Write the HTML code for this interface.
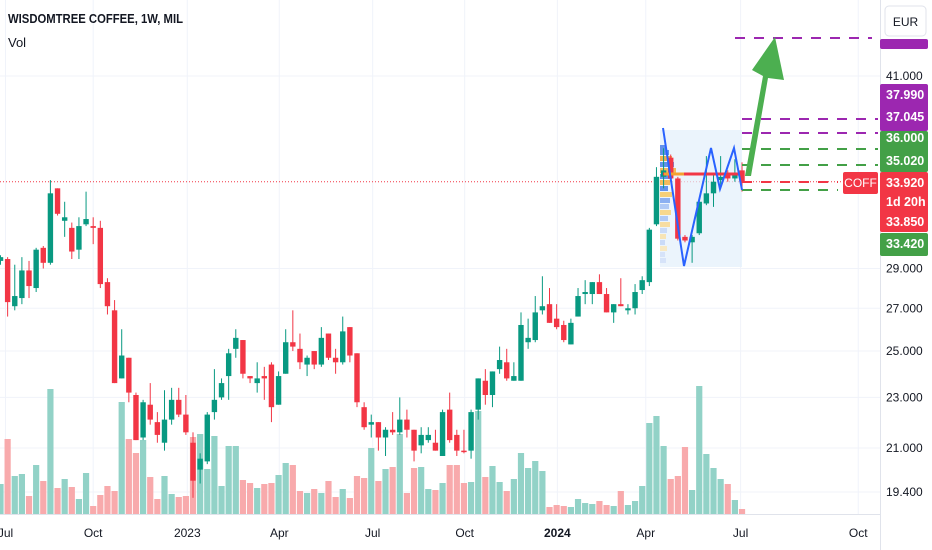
<!DOCTYPE html>
<html><head><meta charset="utf-8">
<style>
html,body{margin:0;padding:0;background:#fff;width:932px;height:550px;overflow:hidden}
svg{display:block;font-family:"Liberation Sans",sans-serif}
</style></head>
<body>
<svg id="chart" width="932" height="550" viewBox="0 0 932 550" xmlns="http://www.w3.org/2000/svg">
<g id="grid"></g>
<g id="vol"></g>
<rect x="660" y="130" width="82" height="137" fill="#e3effb" opacity="0.7"/>
<g id="profile"></g>
<g id="candles"></g>
<g id="overlay"></g>
<g id="axis"></g>
<g id="taxis"></g>
<text x="8" y="23" font-size="12.5" font-weight="bold" fill="#131722" textLength="175" lengthAdjust="spacingAndGlyphs">WISDOMTREE COFFEE, 1W, MIL</text>
<text x="8" y="47" font-size="13" fill="#131722">Vol</text>
<rect x="885" y="6" width="41" height="30" rx="4" fill="#fff" stroke="#e0e3eb"/>
<text x="905.5" y="26" font-size="12" text-anchor="middle" fill="#131722">EUR</text>
</svg>
<script>
const opens=[29.4,29.5,27.1,27.5,28.9,28.0,30.1,29.3,33.5,31.6,31.2,30.0,31.4,31.3,31.2,28.3,26.9,23.8,24.7,23.1,21.4,22.7,22.0,21.2,22.1,22.9,22.3,21.2,20.2,20.5,22.4,23.0,23.9,25.1,25.5,23.9,23.6,23.9,24.4,22.7,24.0,25.4,25.1,24.4,25.0,24.4,25.8,24.7,24.5,26.1,24.9,22.6,21.9,22.0,21.4,21.7,21.6,22.1,21.7,21.1,21.3,21.2,20.7,22.5,21.5,20.9,20.9,22.5,23.7,23.1,24.2,24.5,23.7,23.7,25.4,25.5,26.9,27.2,26.5,26.2,25.3,26.6,27.7,27.7,28.3,27.7,26.8,27.2,26.9,27.0,27.9,28.3,31.4,34.2,35.4,34.1,30.7,30.4,30.9,32.6,33.2,34.0,34.3,34.1,34.6];
const highs=[29.7,29.6,29.2,29.6,29.4,30.1,30.2,34.0,33.5,32.7,31.5,31.8,33.3,31.8,31.6,28.5,27.4,26.0,24.7,23.2,22.9,23.6,22.4,23.3,23.4,23.4,23.1,21.6,20.8,22.4,24.2,23.8,25.1,26.0,25.5,23.9,24.5,24.3,24.5,24.1,26.0,26.9,25.8,24.8,25.0,26.1,25.8,25.1,26.6,26.1,24.9,22.8,22.3,22.0,21.8,22.4,23.0,22.5,21.7,21.8,21.8,21.7,22.5,23.2,21.7,21.7,22.5,23.8,24.2,24.1,25.2,25.1,24.5,26.8,26.5,27.6,28.6,28.0,27.2,26.4,26.5,28.0,28.4,28.3,28.7,28.0,27.2,28.5,27.2,28.2,28.6,31.2,34.8,36.0,35.6,34.2,30.8,30.8,32.8,35.5,34.3,35.5,34.6,35.3,35.1];
const lows=[29.2,26.6,26.9,27.2,27.5,27.8,29.0,29.2,31.9,30.7,29.5,29.5,31.3,30.3,28.0,26.7,23.6,23.8,22.8,21.3,21.3,21.9,21.2,20.9,21.9,22.2,21.5,19.2,19.7,20.4,22.1,22.9,22.9,24.7,23.8,23.6,23.2,22.9,22.0,22.7,24.0,25.0,24.2,23.9,24.2,24.3,24.6,24.0,24.4,24.5,22.6,21.7,21.4,20.9,20.7,21.5,21.5,21.4,20.5,20.8,21.2,20.9,20.7,21.2,20.7,20.8,20.6,22.1,22.7,22.6,24.0,23.7,23.7,23.7,25.1,25.4,26.7,26.3,26.0,25.4,25.3,26.6,27.2,27.2,27.7,26.8,26.3,27.1,26.7,26.7,27.7,28.1,31.3,33.5,33.9,30.5,30.4,29.3,30.8,32.5,32.4,33.5,33.9,33.9,33.3];
const closes=[29.6,27.3,27.6,28.9,28.1,30.0,29.3,33.2,32.0,31.8,29.9,31.3,31.7,31.2,28.2,27.1,23.6,24.8,23.2,21.3,22.8,22.1,21.5,22.1,22.9,22.3,21.6,19.8,20.6,22.3,22.9,23.6,24.9,25.6,24.0,23.8,23.8,23.8,22.6,23.9,25.4,25.2,24.5,24.7,24.4,25.6,24.7,24.5,25.9,24.8,22.8,21.8,22.0,21.4,21.7,21.6,22.1,21.7,20.9,21.5,21.5,20.9,22.4,21.3,20.9,20.85,22.4,23.8,23.1,24.1,24.6,23.8,23.9,26.2,25.6,26.8,27.1,26.3,26.1,25.5,26.3,27.6,27.8,28.3,27.7,26.8,27.2,27.1,27.0,27.8,28.4,31.1,34.2,34.6,34.1,30.6,30.5,30.7,32.7,33.2,33.9,34.2,34.1,34.4,33.9];
const volumes=[30,75,38,40,18,49,33,125,26,35,27,15,41,8,19,28,23,112,75,61,74,37,15,38,20,17,18,77,80,45,78,28,68,68,34,31,26,30,31,39,51,49,23,21,25,21,33,17,25,16,38,36,66,33,45,47,80,21,46,47,25,24,31,49,49,31,32,103,37,48,32,23,35,61,46,53,43,7,9,8,7,15,11,10,13,9,8,23,9,13,28,91,98,68,35,38,67,24,128,60,46,35,30,14,5];
const priceTicks=[41,29,27,25,23,21,19.4];
const priceTickLabels=["41.000","29.000","27.000","25.000","23.000","21.000","19.400"];
const timeLabels=["Jul","Oct","2023","Apr","Jul","Oct","2024","Apr","Jul","Oct"];
const timeIdx=[0.7,13,26.2,39.1,52.2,65.1,78.1,90.5,103.8,120.3];

const NS="http://www.w3.org/2000/svg";
const STEP=7.13;
function xAt(i){return 0.5+i*STEP;}
function yAt(p){return 76+(Math.log(41)-Math.log(p))*556;}
function vy(v){return 514-v;}
function mk(tag,attrs,parent){const e=document.createElementNS(NS,tag);for(const k in attrs)e.setAttribute(k,attrs[k]);parent.appendChild(e);return e;}
const G="#089981",R="#F23645";
const grid=document.getElementById('grid');
priceTicks.forEach(p=>{const l=mk('line',{x1:0,x2:880,y1:yAt(p),y2:yAt(p),stroke:'#f0f3fa','stroke-width':1},grid);

});
timeIdx.forEach(t=>{const l=mk('line',{x1:xAt(t),x2:xAt(t),y1:0,y2:514,stroke:'#f0f3fa','stroke-width':1},grid);

});
const cp=mk('line',{x1:0,x2:843,y1:yAt(closes[closes.length-1]),y2:yAt(closes[closes.length-1]),stroke:R,'stroke-width':1,'stroke-dasharray':'1 2'},grid);


mk('line',{x1:0,x2:880,y1:514.5,y2:514.5,stroke:'#e0e3eb'},grid);
mk('line',{x1:880.5,x2:880.5,y1:0,y2:550,stroke:'#e0e3eb'},grid);

const vol=document.getElementById('vol');
volumes.forEach((v,i)=>{const up=closes[i]>=opens[i];
const r=mk('rect',{x:xAt(i)-3.1,y:vy(v),width:6.2,height:v,fill:up?'#92d2c7':'#f8aaac'},vol);

});

const cg=document.getElementById('candles');
opens.forEach((o,i)=>{const c=closes[i],up=c>=o,col=up?G:R,x=xAt(i);
const g=mk('g',{},cg);


mk('line',{x1:x,x2:x,y1:yAt(highs[i]),y2:yAt(lows[i]),stroke:col,'stroke-width':1},g);
const t=yAt(Math.max(o,c)),b=yAt(Math.min(o,c));
mk('rect',{x:x-2.7,y:t,width:5.4,height:Math.max(1.5,b-t),fill:col},g);});

const prof=document.getElementById('profile');
const rows=[[145,6,'#4a7fe8'],[150,9,'#4a7fe8'],[156,12,'#f0a030'],[162,14,'#4a7fe8'],[168,16,'#f5b040'],[174,12,'#4a7fe8'],[180,10,'#f5b040'],[186,8,'#4a7fe8'],[192,12,'#f7c860'],[198,10,'#7aa3f0'],[204,9,'#a6c2f5'],[210,11,'#f9d27a'],[216,8,'#a6c2f5'],[222,10,'#f9d890'],[228,7,'#c4d6f7'],[234,6,'#f9e0a8'],[240,5,'#c4d6f7'],[246,7,'#fae6b8'],[252,5,'#d2dff8'],[258,6,'#d2dff8']];
rows.forEach(r=>{const e=mk('rect',{x:660,y:r[0],width:r[1],height:5,fill:r[2],opacity:0.85},prof);

});

const ov=document.getElementById('overlay');
function dash(y,x1,x2,col,name){const l=mk('line',{x1:x1,x2:x2,y1:y,y2:y,stroke:col,'stroke-width':2,'stroke-dasharray':'10 9'},ov);}
dash(38,735,872,'#9c27b0','target-line-top');
dash(119,742,878,'#9c27b0','target-line-37990');
dash(133,742,878,'#9c27b0','target-line-37045');
dash(149,742,878,'#43a047','level-line-36000');
dash(165,742,878,'#43a047','level-line-35020');
dash(182,742,838,'#F23645','level-line-33920');
dash(190,742,838,'#43a047','level-line-33420');
const poc=mk('line',{x1:663,x2:742,y1:174,y2:174,stroke:'#F23645','stroke-width':3},ov);


mk('line',{x1:664,x2:684,y1:174,y2:174,stroke:'#f5a030','stroke-width':3},ov);
const zz=mk('polyline',{points:'663,128 684,266 711,148 720,189 734,148 742,190',fill:'none',stroke:'#2962ff','stroke-width':2},ov);


const ar=mk('polygon',{points:'745,176 751,176 768,78 784,80 775,37 752,70 763,76',fill:'#4caf50'},ov);



const ax=document.getElementById('axis');
priceTicks.forEach((p,i)=>{const t=mk('text',{x:886,y:yAt(p)+4,'font-size':12,fill:'#131722'},ax);t.textContent=priceTickLabels[i];

});
function lab(y1,y2,col,lines,name){const g=mk('g',{},ax);
mk('rect',{x:880,y:y1,width:48,height:y2-y1,fill:col,rx:2},g);
lines.forEach(l=>{const t=mk('text',{x:886,y:l[1]+4,'font-size':12.5,'font-weight':'bold',fill:'#fff'},g);t.textContent=l[0];});}
lab(39,49,'#9c27b0',[],'target-price-label');
lab(84,131,'#9c27b0',[['37.990',95],['37.045',117]],'purple-price-labels');
lab(131,172,'#43a047',[['36.000',138],['35.020',161]],'green-price-labels');
lab(172,232,'#F23645',[['33.920',183],['1d 20h',202],['33.850',222]],'last-price-label');
lab(233,256,'#43a047',[['33.420',244]],'support-price-label');
const cb=mk('rect',{x:843,y:172,width:35,height:22,fill:'#F23645',rx:2},ax);


const ct=mk('text',{x:860.5,y:187,'font-size':12,fill:'#fff','text-anchor':'middle'},ax);ct.textContent='COFF';

const ta=document.getElementById('taxis');
timeLabels.forEach((l,i)=>{const t=mk('text',{x:xAt(timeIdx[i]),y:537,'font-size':12,fill:'#131722','text-anchor':'middle','font-weight':l==='2024'?'bold':'normal'},ta);t.textContent=l;

});
</script>
</body></html>
